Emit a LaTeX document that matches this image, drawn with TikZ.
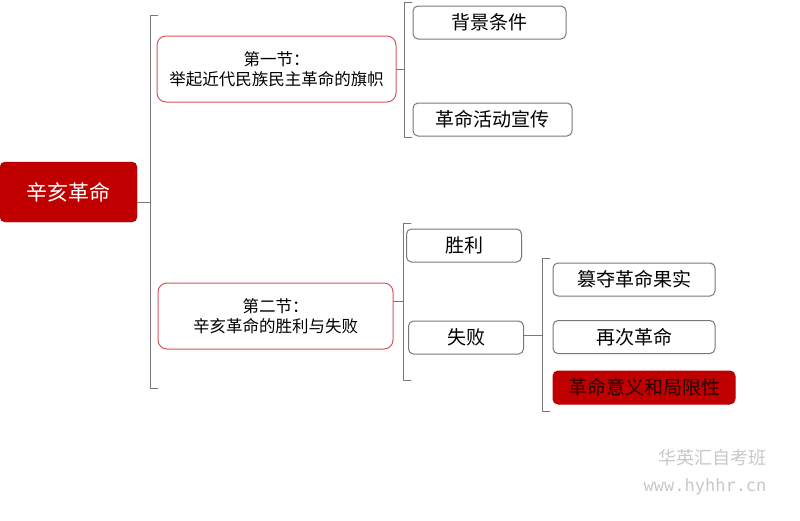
\documentclass[tikz,border=0pt]{standalone}
\usepackage{fontspec}
\newfontfamily\cjk{Noto Sans CJK SC}
\newfontfamily\wmfont{DejaVu Sans Mono}
\definecolor{deepred}{RGB}{192,0,0}
\definecolor{pinkline}{RGB}{215,85,95}
\definecolor{boxgray}{RGB}{120,120,120}
\definecolor{wmgray}{RGB}{200,200,200}

\tikzset{
  rootbox/.style={draw=deepred!80!black,fill=deepred,text=white,rounded corners=5pt,
    minimum width=137pt,minimum height=60pt,inner sep=0pt,font=\cjk\fontsize{21}{24}\selectfont},
  secbox/.style={draw=pinkline,line width=1pt,fill=white,rounded corners=9pt,align=center,
    minimum height=66pt,inner sep=0pt,font=\cjk\fontsize{16.5}{20}\selectfont},
  leaf/.style={draw=boxgray,line width=1pt,fill=white,rounded corners=5pt,
    minimum height=33pt,inner sep=0pt,font=\cjk\fontsize{19}{22}\selectfont},
  hotleaf/.style={leaf,draw=deepred,fill=deepred,text=black!85!red},
  brk/.style={draw=boxgray,line width=0.9pt}
}

\begin{document}
\begin{tikzpicture}[x=1pt,y=-1pt,line cap=round,line join=round]
\useasboundingbox (0,0) rectangle (800,520);

% main topic
\node[rootbox] (xh) at (68.5,192) {辛亥革命};

% sections
\node[secbox,minimum width=239pt] (s1) at (276.5,69) {第一节：\\举起近代民族民主革命的旗帜};
\node[secbox,minimum width=235pt] (s2) at (275.5,316) {第二节：\\辛亥革命的胜利与失败};

% leaves
\node[leaf,minimum width=153pt] (bj) at (489.5,22.5) {背景条件};
\node[leaf,minimum width=159pt] (hd) at (492.5,119.5) {革命活动宣传};
\node[leaf,minimum width=115pt] (sl) at (464,245.5) {胜利};
\node[leaf,minimum width=115pt] (sb) at (466,337.5) {失败};
\node[leaf,minimum width=162pt] (cd) at (634,279.5) {篡夺革命果实};
\node[leaf,minimum width=162pt] (zc) at (634,337) {再次革命};
\node[hotleaf,minimum width=182pt] (yy) at (644,387.5) {革命意义和局限性};

% brackets
\coordinate (k1) at (150,202);
\draw[brk] (158,15) -- (150,15) -- (150,388) -- (158,388);
\draw[brk] (xh.east |- k1) -- (k1);

\coordinate (k2) at (404,69.5);
\draw[brk] (412,2) -- (404,2) -- (404,137) -- (412,137);
\draw[brk] (s1.east |- k2) -- (k2);

\coordinate (k3) at (403,301);
\draw[brk] (411,223) -- (403,223) -- (403,380) -- (411,380);
\draw[brk] (s2.east |- k3) -- (k3);

\coordinate (k4) at (542,335);
\draw[brk] (550,258) -- (542,258) -- (542,411) -- (550,411);
\draw[brk] (sb.east |- k4) -- (k4);

% watermark
\node[text=wmgray,font=\cjk\fontsize{18}{20}\selectfont,anchor=east] (wm1) at (770,458) {华英汇自考班};
\node[text=wmgray,font=\wmfont\fontsize{17}{20}\selectfont,anchor=east] (wm2) at (770,487) {www.hyhhr.cn};
\end{tikzpicture}
\end{document}
